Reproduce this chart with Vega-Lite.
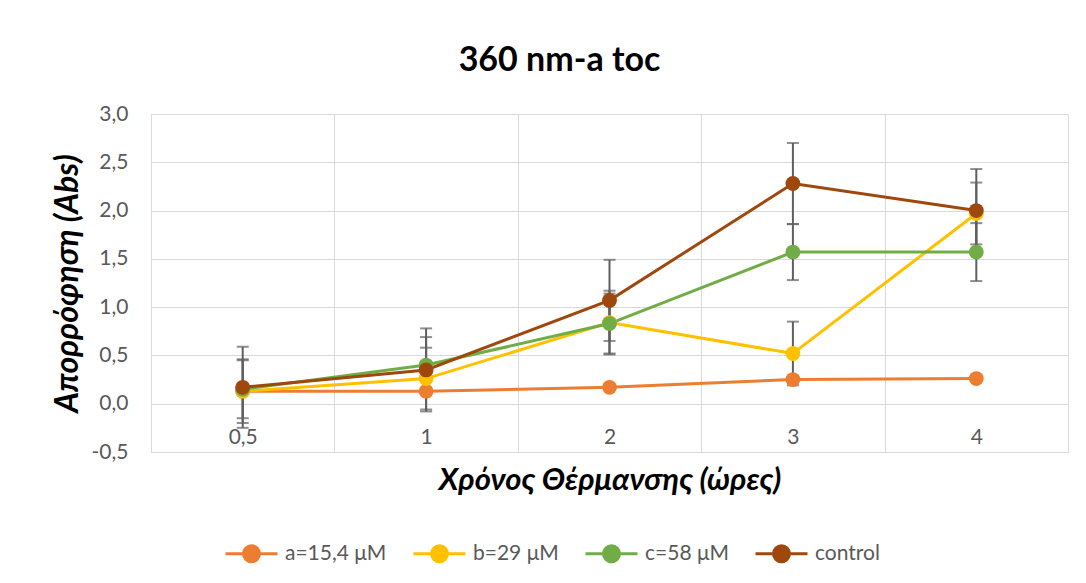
{
  "$schema": "https://vega.github.io/schema/vega-lite/v6.json",
  "width": 917,
  "height": 338,
  "autosize": "none",
  "padding": {"left": 151, "top": 114, "right": 18, "bottom": 131},
  "background": "white",
  "config": {
    "locale": {"number": {"decimal": ",", "thousands": ".", "grouping": [3], "currency": ["", " €"], "minus": "-"}},
    "view": {"stroke": "#d9d9d9", "strokeWidth": 1},
    "font": "Lato"
  },
  "title": {
    "text": "360 nm-a toc",
    "font": "Lato",
    "fontSize": 34,
    "fontWeight": "bold",
    "color": "#000000",
    "anchor": "middle",
    "frame": "bounds",
    "offset": 25
  },
  "data": {
    "values": [
      {"series": "a=15,4 μM", "t": "0,5", "y": 0.13, "lo": 0.11, "hi": 0.15},
      {"series": "a=15,4 μM", "t": "1", "y": 0.13, "lo": 0.11, "hi": 0.15},
      {"series": "a=15,4 μM", "t": "2", "y": 0.17, "lo": 0.15, "hi": 0.19},
      {"series": "a=15,4 μM", "t": "3", "y": 0.25, "lo": 0.23, "hi": 0.27},
      {"series": "a=15,4 μM", "t": "4", "y": 0.26, "lo": 0.24, "hi": 0.28},
      {"series": "b=29 μM", "t": "0,5", "y": 0.13, "lo": -0.20, "hi": 0.46},
      {"series": "b=29 μM", "t": "1", "y": 0.26, "lo": -0.06, "hi": 0.58},
      {"series": "b=29 μM", "t": "2", "y": 0.84, "lo": 0.51, "hi": 1.17},
      {"series": "b=29 μM", "t": "3", "y": 0.52, "lo": 0.19, "hi": 0.85},
      {"series": "b=29 μM", "t": "4", "y": 1.97, "lo": 1.65, "hi": 2.29},
      {"series": "c=58 μM", "t": "0,5", "y": 0.15, "lo": -0.15, "hi": 0.45},
      {"series": "c=58 μM", "t": "1", "y": 0.40, "lo": 0.11, "hi": 0.69},
      {"series": "c=58 μM", "t": "2", "y": 0.83, "lo": 0.52, "hi": 1.14},
      {"series": "c=58 μM", "t": "3", "y": 1.57, "lo": 1.28, "hi": 1.86},
      {"series": "c=58 μM", "t": "4", "y": 1.57, "lo": 1.27, "hi": 1.87},
      {"series": "control", "t": "0,5", "y": 0.17, "lo": -0.25, "hi": 0.59},
      {"series": "control", "t": "1", "y": 0.35, "lo": -0.08, "hi": 0.78},
      {"series": "control", "t": "2", "y": 1.07, "lo": 0.65, "hi": 1.49},
      {"series": "control", "t": "3", "y": 2.28, "lo": 1.86, "hi": 2.70},
      {"series": "control", "t": "4", "y": 2.00, "lo": 1.57, "hi": 2.43}
    ]
  },
  "encoding": {
    "x": {
      "field": "t",
      "type": "ordinal",
      "sort": ["0,5", "1", "2", "3", "4"],
      "scale": {"type": "band", "paddingInner": 0, "paddingOuter": 0},
      "axis": {
        "title": "Χρόνος Θέρμανσης (ώρες)",
        "titleFont": "Lato",
        "titleFontSize": 31,
        "titleFontWeight": "bold",
        "titleFontStyle": "italic",
        "titleColor": "#000000",
        "titleY": 28,
        "titleBaseline": "middle",
        "labelAngle": 0,
        "labelFont": "Lato",
        "labelFontSize": 21,
        "labelColor": "#595959",
        "labelBaseline": "middle",
        "labelPadding": -15,
        "domain": false,
        "ticks": false,
        "grid": true,
        "tickBand": "extent",
        "gridColor": "#d9d9d9",
        "gridWidth": 1
      }
    }
  },
  "layer": [
    {
      "mark": {"type": "rule", "color": "#5f5f5f", "strokeWidth": 2},
      "encoding": {
        "y": {"field": "lo", "type": "quantitative"},
        "y2": {"field": "hi"},
        "detail": {"field": "series"}
      }
    },
    {
      "mark": {"type": "tick", "color": "#5f5f5f", "size": 12, "thickness": 2, "orient": "horizontal"},
      "encoding": {
        "y": {"field": "lo", "type": "quantitative"}
      }
    },
    {
      "mark": {"type": "tick", "color": "#5f5f5f", "size": 12, "thickness": 2, "orient": "horizontal"},
      "encoding": {
        "y": {"field": "hi", "type": "quantitative"}
      }
    },
    {
      "mark": {"type": "line", "strokeWidth": 3},
      "encoding": {
        "y": {
          "field": "y",
          "type": "quantitative",
          "scale": {"domain": [-0.5, 3.0], "nice": false, "zero": false},
          "axis": {
            "title": "Απορρόφηση (Abs)",
            "titleFont": "Lato",
            "titleFontSize": 32,
            "titleFontWeight": "bold",
            "titleFontStyle": "italic",
            "titleColor": "#000000",
            "titleX": -84,
            "titleBaseline": "middle",
            "values": [-0.5, 0, 0.5, 1, 1.5, 2, 2.5, 3],
            "format": ".1f",
            "labelFont": "Lato",
            "labelFontSize": 21,
            "labelColor": "#595959",
            "labelPadding": 23,
            "domain": false,
            "ticks": false,
            "grid": true,
            "gridColor": "#d9d9d9",
            "gridWidth": 1
          }
        },
        "color": {
          "field": "series",
          "type": "nominal",
          "scale": {
            "domain": ["a=15,4 μM", "b=29 μM", "c=58 μM", "control"],
            "range": ["#ED7D31", "#FFC000", "#70AD47", "#9E480E"]
          },
          "legend": {
            "title": null,
            "orient": "none",
            "direction": "horizontal",
            "legendX": 90,
            "legendY": 429,
            "padding": 0,
            "symbolType": "M-3.25,0H3.25M-1,0A1,1 0 1,1 1,0A1,1 0 1,1 -1,0Z",
            "symbolSize": 256,
            "symbolStrokeWidth": 3,
            "labelOffset": 23,
            "columnPadding": 20,
            "labelFont": "Lato",
            "labelFontSize": 21,
            "labelColor": "#595959",
            "encode": {
              "symbols": {
                "update": {
                  "fill": {"scale": "color", "field": "value"},
                  "stroke": {"scale": "color", "field": "value"},
                  "strokeWidth": {"value": 3}
                }
              }
            }
          }
        }
      }
    },
    {
      "mark": {"type": "point", "filled": true, "size": 220, "opacity": 1},
      "encoding": {
        "y": {"field": "y", "type": "quantitative"},
        "color": {"field": "series", "type": "nominal"}
      }
    }
  ]
}
